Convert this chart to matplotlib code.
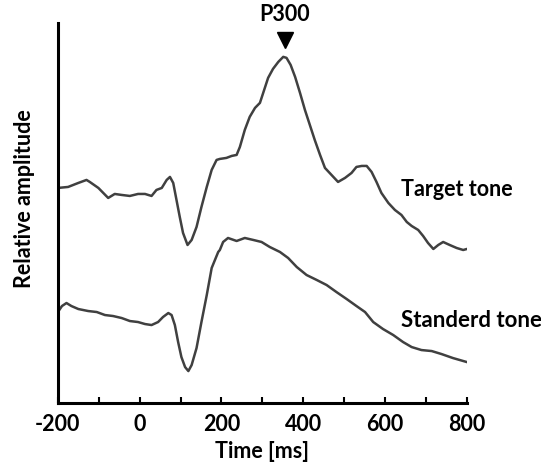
import matplotlib.pyplot as plt
from matplotlib.ticker import MultipleLocator

plt.rcParams['font.family'] = ['Lato', 'DejaVu Sans']
plt.rcParams['font.weight'] = 'bold'
plt.rcParams['axes.unicode_minus'] = False

# ERP waveforms (time in ms, relative amplitude in arbitrary units)
target_t = [-200, -175, -150, -130, -122, -101, -89, -77, -61, -44, -24, -4, 13, 29, 41, 54,
            66, 74, 82, 90, 98, 106, 117, 127, 139, 151, 164, 176, 188, 196, 212, 225,
            237, 245, 257, 269, 282, 294, 302, 314, 326, 339, 351, 359, 369, 380, 392,
            404, 416, 428, 441, 453, 469, 485, 502, 518, 530, 543, 555, 567, 579, 591,
            608, 624, 640, 653, 665, 681, 693, 705, 718, 730, 742, 758, 775, 791, 800]
target_amp = [215, 216, 220, 223, 221, 215, 210, 205, 209, 208, 207, 209, 209, 207, 213, 215,
              223, 226, 220, 203, 186, 170, 158, 163, 176, 196, 216, 233, 243, 244, 245, 247,
              248, 256, 273, 286, 295, 300, 310, 325, 334, 341, 346, 345, 338, 326, 310,
              293, 278, 263, 248, 235, 228, 221, 225, 230, 236, 237, 237, 231, 221, 210,
              200, 193, 188, 181, 177, 173, 167, 160, 154, 158, 161, 158, 155, 153, 154]

standard_t = [-200, -190, -179, -167, -150, -126, -105, -85, -65, -44, -24, -4, 13, 29, 45, 57,
              70, 78, 86, 94, 102, 111, 119, 127, 139, 151, 164, 176, 192, 196, 204, 216,
              237, 257, 278, 298, 318, 343, 363, 384, 408, 433, 457, 481, 506, 530, 551,
              571, 595, 620, 644, 665, 689, 714, 738, 766, 800]
standard_amp = [91, 97, 100, 97, 94, 92, 91, 88, 87, 85, 82, 81, 79, 78, 81, 86,
                90, 88, 78, 61, 46, 36, 32, 38, 55, 81, 108, 135, 151, 153, 161, 165,
                162, 165, 163, 161, 156, 151, 145, 136, 128, 123, 118, 111, 104, 97, 91,
                81, 74, 68, 61, 56, 53, 52, 49, 45, 41]

p300_time = 355
p300_amp = 363

fig = plt.figure(figsize=(5.41, 4.66), dpi=100)
ax = fig.add_axes([0.107, 0.135, 0.756, 0.816])

line_color = '#404040'
ax.plot(target_t, target_amp, color=line_color, linewidth=1.8, solid_joinstyle='round')
ax.plot(standard_t, standard_amp, color=line_color, linewidth=1.8, solid_joinstyle='round')

ax.set_xlim(-200, 800)
ax.set_ylim(0, 380)

ax.spines['top'].set_visible(False)
ax.spines['right'].set_visible(False)
ax.spines['left'].set_linewidth(2.2)
ax.spines['bottom'].set_linewidth(2.2)

ax.set_yticks([])
ax.xaxis.set_major_locator(MultipleLocator(200))
ax.xaxis.set_minor_locator(MultipleLocator(100))
ax.tick_params(axis='x', which='both', direction='in', length=4, width=1.5, labelsize=15.5, pad=8)

ax.set_xlabel('Time [ms]', fontsize=15.5, fontweight='bold', labelpad=4)
ax.set_ylabel('Relative amplitude', fontsize=15.5, fontweight='bold')
ax.yaxis.set_label_coords(-0.056, 0.537)

ax.text(639, 213, 'Target tone', fontsize=15.5, fontweight='bold', va='center', ha='left', clip_on=False)
ax.text(639, 83, 'Standerd tone', fontsize=16, fontweight='bold', va='center', ha='left', clip_on=False)

ax.plot([p300_time], [p300_amp], marker='v', color='black', markersize=11, clip_on=False)
ax.text(p300_time, 388, 'P300', fontsize=15.5, fontweight='bold', ha='center', va='center', clip_on=False)

plt.savefig('out.png', dpi=100, facecolor='white')
